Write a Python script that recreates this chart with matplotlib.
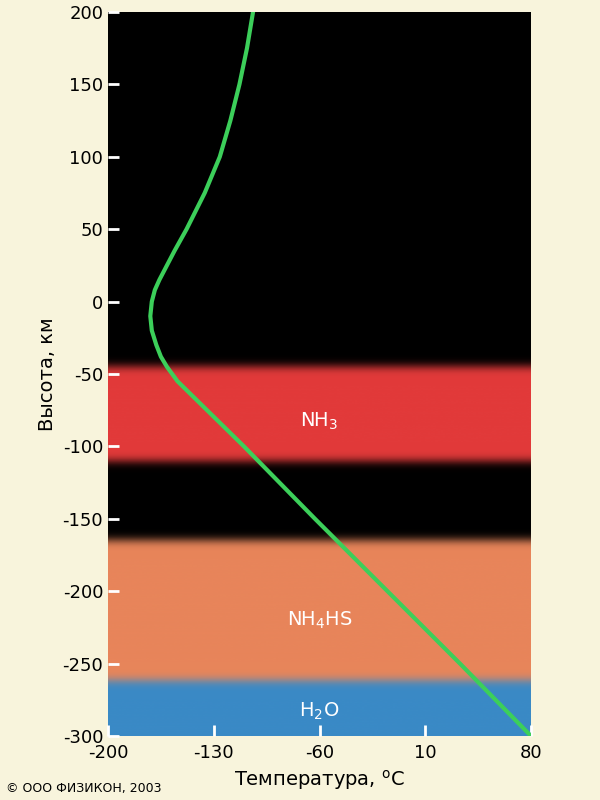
import numpy as np
import matplotlib
matplotlib.use("Agg")
import matplotlib.pyplot as plt
from matplotlib.colors import to_rgb

plt.rcParams["axes.unicode_minus"] = False

# temperature profile
alt = [200, 175, 150, 125, 100, 75, 50, 35, 25, 15, 8, 0, -10, -20, -30, -38, -45, -55, -100, -150, -200, -250, -300]
temp = [-104, -108, -113, -119, -126, -136, -148, -156, -161, -166, -169, -171, -172, -171, -168, -165, -161, -154, -110, -63, -15, 33, 80]

# cloud layers
band_names = ["NH$_3$", "NH$_4$HS", "H$_2$O"]
band_lo = [-110, -262, -300]
band_hi = [-45, -165, -262]
band_colors = ["#e23a3a", "#e8855a", "#3a8ac6"]
band_label_y = [-83, -220, -283]

bg = "#f8f4dc"
fig = plt.figure(figsize=(6, 8), dpi=100, facecolor=bg)
ax = fig.add_axes([0.18, 0.08, 0.705, 0.905])

# background column with soft band edges
h = np.linspace(-300, 200, 1001)
img = np.zeros((len(h), 3))
for lo, hi, c in zip(band_lo, band_hi, band_colors):
    mask = (h >= lo) & (h <= hi)
    img[mask] = to_rgb(c)
k = np.exp(-0.5 * (np.arange(-25, 26) / 6.0) ** 2)
k /= k.sum()
for i in range(3):
    col = np.pad(img[:, i], 25, mode="edge")
    img[:, i] = np.convolve(col, k, mode="valid")
ax.imshow(img[:, None, :], aspect="auto", origin="lower",
          extent=[-200, 80, -300, 200], zorder=0)

ax.plot(temp, alt, color="#3ccf5a", linewidth=3, zorder=3, solid_joinstyle="round")

for name, y in zip(band_names, band_label_y):
    ax.text(-60, y, name, color="white", fontsize=14, ha="center", va="center")

ax.set_xlim(-200, 80)
ax.set_ylim(-300, 200)
ax.set_xticks([-200, -130, -60, 10, 80])
ax.set_yticks(range(-300, 201, 50))
ax.tick_params(direction="in", color="white", length=8, width=2, labelsize=13)
ax.tick_params(axis="x", pad=6)
for s in ax.spines.values():
    s.set_visible(False)
ax.set_xlabel("Температура, $^{\\rm o}$C", fontsize=14)
ax.set_ylabel("Высота, км", fontsize=14)
fig.text(0.01, 0.01, "© ООО ФИЗИКОН, 2003", fontsize=9)
fig.savefig("out.png", dpi=100, facecolor=bg)
